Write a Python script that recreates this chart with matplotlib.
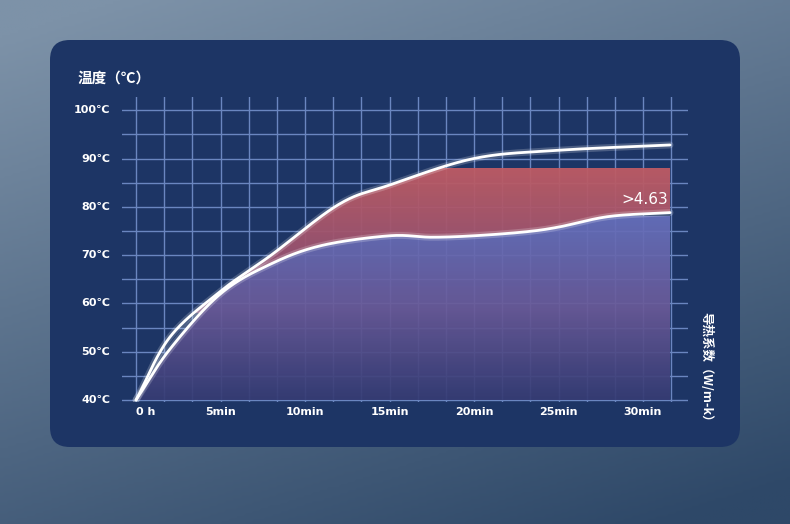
import numpy as np
import matplotlib.pyplot as plt
from matplotlib.patches import FancyBboxPatch, Polygon
from matplotlib.colors import LinearSegmentedColormap

plt.rcParams['font.family'] = ['Noto Sans CJK SC', 'DejaVu Sans']

# data (minutes, degC)
t_hi = [0, 2, 5, 8, 12, 15, 20, 25, 31.6]
temp_hi = [40, 53, 62.5, 70, 80.5, 84.5, 90, 91.7, 92.8]
t_lo = [0, 2, 5, 8, 11, 15, 17.5, 20, 23, 25, 28, 31.6]
temp_lo = [40, 50.5, 62, 68.2, 72, 74, 73.7, 74, 74.8, 75.8, 78, 78.8]
x_ticks = [0, 5, 10, 15, 20, 25, 30]
x_labels = ['0 h', '5min', '10min', '15min', '20min', '25min', '30min']
y_ticks = [40, 50, 60, 70, 80, 90, 100]
y_labels = ['%d℃' % v for v in y_ticks]


def smooth(x, y, n=30):
    # Catmull-Rom through the read points
    x = np.asarray(x, float); y = np.asarray(y, float)
    px = np.r_[2*x[0]-x[1], x, 2*x[-1]-x[-2]]
    py = np.r_[2*y[0]-y[1], y, 2*y[-1]-y[-2]]
    xs, ys = [], []
    s = np.linspace(0, 1, n, endpoint=False)
    for i in range(1, len(px)-2):
        for arr, out in ((px, xs), (py, ys)):
            p0, p1, p2, p3 = arr[i-1:i+3]
            out.extend(0.5*(2*p1 + (-p0+p2)*s + (2*p0-5*p1+4*p2-p3)*s**2 + (-p0+3*p1-3*p2+p3)*s**3))
    xs.append(x[-1]); ys.append(y[-1])
    return np.array(xs), np.array(ys)


W, H = 790, 524
fig = plt.figure(figsize=(W/100, H/100), dpi=100)

bg = fig.add_axes([0, 0, 1, 1]); bg.set_axis_off()
gy, gx = np.mgrid[0:1:200j, 0:1:200j]
g = np.clip(0.75*gy - 0.35*gx + 0.3, 0, 1)
bgcm = LinearSegmentedColormap.from_list('bg', ['#2e4868', '#7d92a8'])
bg.imshow(g, cmap=bgcm, extent=[0, 1, 0, 1], aspect='auto', origin='lower')
bg.set_xlim(0, 1); bg.set_ylim(0, 1)
bg.add_patch(FancyBboxPatch((50/W, 1-447/H), 690/W, 407/H,
                            boxstyle='round,pad=0,rounding_size=0.025',
                            fc='#1d3565', ec='none', transform=bg.transAxes,
                            mutation_aspect=W/H))

px0 = 136; ppm = 16.9; py40 = 400; ppd = 4.83
ax_l, ax_r, ax_t, ax_b = 122, 688, 97, 402
ax = fig.add_axes([ax_l/W, 1-ax_b/H, (ax_r-ax_l)/W, (ax_b-ax_t)/H])
ax.set_xlim((ax_l-px0)/ppm, (ax_r-px0)/ppm)
ax.set_ylim(40-(ax_b-py40)/ppd, 40+(py40-ax_t)/ppd)
ax.patch.set_alpha(0)
for s in ax.spines.values():
    s.set_visible(False)
ax.set_xticks([]); ax.set_yticks([])

gc = '#6a86c0'
for v in np.arange(0, 33, 5/3):
    ax.axvline(v, color=gc, lw=1, zorder=1)
for v in np.arange(40, 101, 5):
    ax.axhline(v, color=gc, lw=1, zorder=1)

xh, yh = smooth(t_hi, temp_hi)
xl, yl = smooth(t_lo, temp_lo)

# red band between curves
xb = np.r_[xh, xl[::-1]]; yb = np.r_[yh, yl[::-1]]
red = Polygon(np.c_[xb, yb], closed=True, fc='none', ec='none')
ax.add_patch(red)
rcm = LinearSegmentedColormap.from_list('r', ['#804c78', '#bf5c64'])
im = ax.imshow(np.linspace(0, 1, 100)[:, None], cmap=rcm, origin='lower', aspect='auto',
               extent=[0, 32, 58, 88], zorder=2, alpha=0.95)
im.set_clip_path(red)

# blue fill below lower curve
blue = Polygon(np.c_[np.r_[xl, xl[-1], 0], np.r_[yl, 40, 40]], closed=True, fc='none', ec='none')
ax.add_patch(blue)
bcm = LinearSegmentedColormap.from_list('b', ['#363c74', '#6a5a98', '#6670bc'])
im2 = ax.imshow(np.linspace(0, 1, 100)[:, None], cmap=bcm, origin='lower', aspect='auto',
                extent=[0, 32, 40, 78], zorder=3, alpha=0.93)
im2.set_clip_path(blue)

for xs, ys in ((xh, yh), (xl, yl)):
    ax.plot(xs, ys, color='white', lw=5, alpha=0.2, zorder=4, solid_capstyle='round')
    ax.plot(xs, ys, color='white', lw=2, zorder=5, solid_capstyle='round')

for v, lab in zip(x_ticks, x_labels):
    ax.text(v, 40-(412-py40)/ppd, lab, color='white', fontsize=8, fontweight='bold',
            ha='left' if v == 0 else 'center', va='center', family=['DejaVu Sans'])
for v, lab in zip(y_ticks, y_labels):
    fig.text(110/W, 1-(py40-(v-40)*ppd)/H, lab, color='white', fontsize=8, fontweight='bold',
             ha='right', va='center', family=['DejaVu Sans', 'Noto Sans CJK SC'])

fig.text(78/W, 1-78/H, '温度（℃）', color='white', fontsize=10.5, fontweight='bold',
         ha='left', va='center')
fig.text(668/W, 1-200/H, '>4.63', color='white', fontsize=11, ha='right', va='center',
         family=['DejaVu Sans'])
fig.text(706/W, 1-370/H, '导热系数（W/m-k）', color='white', fontsize=9, fontweight='bold',
         rotation=-90, ha='center', va='center')

fig.savefig('out.png', dpi=100)
